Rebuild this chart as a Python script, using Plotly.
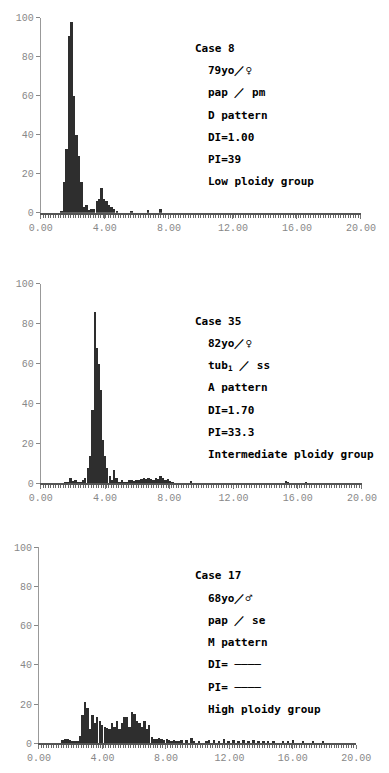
import plotly.graph_objects as go

# ---------------- data ----------------
# Panel 1 (Case 8)
p1_x = [1.29, 1.45, 1.60, 1.76, 1.91, 2.07, 2.23, 2.38, 2.54, 2.70, 2.85, 3.01, 3.16,
        3.32, 3.48, 3.63, 3.79, 3.95, 4.10, 4.26, 4.41, 4.57, 4.73, 5.66, 6.68, 7.46]
p1_y = [1, 16, 33, 91, 98, 60, 40, 29, 16, 3, 4, 1.5, 2,
        2, 6, 7, 13, 7, 6, 4, 3, 2, 1, 1, 1.5, 2]

# Panel 2 (Case 35)
p2_x = [1.50, 1.65, 1.85, 2.00, 2.15, 2.30, 2.45, 2.60, 2.74, 2.92, 3.07, 3.21, 3.35,
        3.48, 3.60, 3.71, 3.84, 3.97, 4.12, 4.28, 4.42, 4.55, 4.70, 4.90, 5.05, 5.20,
        5.35, 5.50, 5.65, 5.80, 5.95, 6.10, 6.25, 6.40, 6.55, 6.70, 6.85, 7.00, 7.15,
        7.30, 7.45, 7.60, 7.75, 7.90, 8.05, 8.20, 9.35, 15.25, 15.40, 16.50]
p2_y = [1, 1, 3, 1.5, 2, 1, 1, 2, 3, 8, 14, 37, 86,
        68, 60, 47, 22, 14, 8, 4, 2, 7, 3, 1, 2, 1,
        1, 2, 2, 1.5, 2, 2, 2.5, 3, 2.5, 3, 2.5, 2, 3,
        2.5, 4, 3, 2, 2.5, 1.5, 1, 1.5, 1.5, 1, 1]

# Panel 3 (Case 17)
p3_x = [1.48, 1.64, 1.80, 1.95, 2.11, 2.27, 2.42, 2.58, 2.73, 2.89, 3.05, 3.20, 3.36,
        3.52, 3.67, 3.83, 3.98, 4.14, 4.30, 4.45, 4.61, 4.77, 4.92, 5.08, 5.23, 5.39,
        5.55, 5.70, 5.86, 6.02, 6.17, 6.33, 6.48, 6.64, 6.80, 6.95, 7.11, 7.27, 7.42,
        7.58, 7.73, 7.89, 8.05, 8.20, 8.36, 8.52, 8.67, 8.83, 8.98, 9.30, 9.61, 9.77,
        10.08, 10.55, 10.70, 11.02, 11.33, 11.64, 11.95, 12.27, 12.58, 12.89, 13.20,
        13.52, 13.83, 14.14, 14.45, 14.77, 15.39, 15.70, 16.02, 16.64, 17.27, 17.89]
p3_y = [1.5, 2, 2, 1.5, 1, 1, 1, 3.5, 14, 21, 18, 7, 14,
        10, 13, 11, 9, 8, 7.5, 7, 10, 8, 11, 7, 10, 13,
        13, 8, 16, 15, 11, 10, 8, 11, 7, 9, 3, 2, 2,
        2.5, 2, 1.5, 2, 1.5, 1, 1.5, 1, 1, 1.5, 1.5, 2.5, 1,
        1, 1, 1.5, 1.5, 1, 2, 1, 1.5, 1, 1.5, 1,
        1.5, 1, 1, 1, 1, 1, 1, 1.5, 1, 1, 1]

x_tickvals = [0, 4, 8, 12, 16, 20]
x_ticktext = ["0.00", "4.00", "8.00", "12.00", "16.00", "20.00"]
y_tickvals = [0, 20, 40, 60, 80, 100]
y_ticktext = ["0", "20", "40", "60", "80", "100"]

texts = [
    ["Case 8", "79yo／♀", "pap ／ pm", "D pattern", "DI=1.00", "PI=39", "Low ploidy group"],
    ["Case 35", "82yo／♀", "tub<sub>1</sub> ／ ss", "A pattern", "DI=1.70", "PI=33.3",
     "Intermediate ploidy group"],
    ["Case 17", "68yo／♂", "pap ／ se", "M pattern", "DI= ────", "PI= ────", "High ploidy group"],
]

# ---------------- layout geometry ----------------
W, H = 389, 773
panels = [
    dict(x0=31, x1=375, top=13, bot=211, text_top=44),
    dict(x0=31, x1=376, top=283, bot=486, text_top=321),
    dict(x0=29, x1=370, top=551, bot=750, text_top=580),
]
series = [(p1_x, p1_y), (p2_x, p2_y), (p3_x, p3_y)]

fig = go.Figure()
tickfont = dict(family="Liberation Mono", size=10, color="#888888")
ann = []
for i, (pn, (xs, ys)) in enumerate(zip(panels, series)):
    k = "" if i == 0 else str(i + 1)
    fig.add_trace(go.Bar(x=xs, y=ys, width=0.15, marker=dict(color="#2e2e2e", line=dict(width=0)),
                         xaxis="x" + k, yaxis="y" + k, showlegend=False))
    fig.update_layout(**{
        "xaxis" + k: dict(domain=[pn["x0"] / W, pn["x1"] / W], range=[0, 20], anchor="y" + k,
                          tickvals=x_tickvals, ticktext=x_ticktext, ticks="outside", ticklen=4,
                          tickcolor="#777", showline=True, linecolor="#555", linewidth=2,
                          showgrid=False, zeroline=False, tickfont=tickfont,
                          minor=dict(dtick=0.15625, tick0=0, ticks="outside", ticklen=3,
                                     tickcolor="#666", tickwidth=1, showgrid=False)),
        "yaxis" + k: dict(domain=[1 - pn["bot"] / H, 1 - pn["top"] / H], range=[0, 100],
                          anchor="x" + k, tickvals=y_tickvals, ticktext=y_ticktext,
                          ticks="outside", ticklen=4, tickcolor="#888", showline=True,
                          linecolor="#999", linewidth=1, showgrid=False, zeroline=False,
                          tickfont=tickfont),
    })
    for j, t in enumerate(texts[i]):
        xpx = 194 if j == 0 else 208
        ypx = pn["text_top"] + j * 22.6
        ann.append(dict(x=xpx / W, y=1 - ypx / H, xref="paper", yref="paper",
                        xanchor="left", yanchor="middle", showarrow=False, text="<b>" + t + "</b>",
                        font=dict(family="DejaVu Sans Mono", size=11, color="#000")))

fig.update_layout(width=W, height=H, margin=dict(l=0, r=0, t=0, b=0),
                  paper_bgcolor="white", plot_bgcolor="white", bargap=0,
                  annotations=ann)
fig.write_html("out.html")
